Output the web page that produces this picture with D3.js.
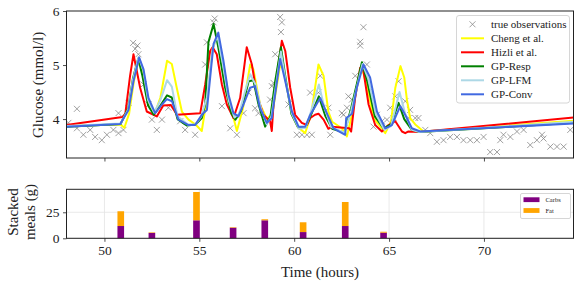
<!DOCTYPE html>
<html>

<head>
    <meta charset='utf-8'>
    <title>Glucose predictions</title>
    <script src='https://d3js.org/d3.v7.min.js'></script>
    <style>
        body { margin: 0; background: white; }
        text { font-family: 'Liberation Serif', 'Times New Roman', serif; fill: #222; }
    </style>
</head>

<body>
    <script>
        // observed glucose (hours, mmol/l)
        const obsTime = [48.10, 48.55, 48.55, 48.89, 49.25, 49.51, 49.86, 50.13, 50.47, 50.74, 51.00, 50.74, 51.27, 51.51, 51.62, 51.74, 51.79, 52.06, 52.32, 52.50, 52.76, 53.03, 53.37, 53.99, 54.25, 54.78, 55.31, 55.40, 55.75, 55.81, 56.19, 56.63, 56.98, 57.33, 57.59, 57.94, 58.12, 58.73, 58.82, 58.91, 59.00, 59.26, 59.35, 59.30, 59.70, 60.14, 60.41, 60.67, 60.93, 60.84, 61.28, 61.37, 61.80, 61.90, 62.51, 62.60, 62.78, 62.86, 63.04, 63.22, 63.48, 63.48, 63.65, 63.83, 64.00, 64.18, 64.36, 64.62, 64.89, 65.06, 65.23, 65.33, 65.50, 65.85, 66.03, 66.11, 66.38, 66.55, 66.91, 67.17, 67.52, 67.87, 68.22, 68.58, 68.92, 69.28, 69.63, 69.98, 70.33, 70.69, 70.86, 71.03, 71.39, 71.74, 72.09, 72.44, 72.79, 73.06, 73.14, 73.50, 73.85, 74.20, 74.55];
        const obsGlucose = [3.93, 4.19, 3.83, 3.71, 3.80, 3.67, 3.61, 3.71, 3.80, 3.74, 3.80, 4.11, 4.30, 5.41, 5.30, 5.36, 5.20, 4.64, 4.27, 3.99, 3.80, 3.99, 4.21, 3.96, 3.80, 3.71, 5.01, 5.42, 5.79, 5.86, 4.24, 3.83, 3.71, 4.11, 4.49, 4.20, 4.11, 4.36, 4.61, 4.67, 5.20, 5.89, 5.79, 5.61, 4.27, 3.71, 3.71, 3.71, 3.71, 4.49, 4.49, 4.80, 4.21, 3.71, 4.11, 4.08, 4.21, 4.42, 4.36, 4.80, 5.36, 5.43, 5.70, 5.01, 4.52, 3.86, 4.08, 3.96, 3.99, 4.21, 4.02, 4.42, 4.70, 4.33, 4.02, 4.17, 4.02, 4.02, 3.80, 3.74, 3.58, 3.61, 3.67, 3.67, 3.61, 3.61, 3.61, 3.67, 3.39, 3.39, 3.61, 3.71, 3.67, 3.77, 3.80, 3.52, 3.61, 3.71, 3.64, 3.49, 3.49, 3.49, 3.80];

        // model predictions
        const chengTime = [48.0, 50.85, 51.05, 51.3, 51.55, 51.8, 52.05, 52.3, 52.65, 52.95, 53.3, 53.55, 53.81, 54.08, 54.43, 54.8, 55.13, 55.48, 55.7, 55.95, 56.25, 56.6, 56.98, 57.3, 57.68, 57.85, 58.2, 58.56, 58.85, 59.26, 59.44, 59.88, 60.2, 60.58, 60.9, 61.28, 61.55, 61.8, 62.0, 62.51, 62.78, 63.04, 63.3, 63.55, 63.85, 64.18, 64.8, 65.1, 65.33, 65.6, 65.8, 65.94, 66.11, 66.38, 66.82, 74.72];
        const chengGlucose = [3.87, 3.9, 3.84, 4.1, 4.7, 5.1, 4.85, 4.35, 4.1, 4.4, 5.08, 5.02, 4.58, 4.14, 3.99, 3.9, 3.78, 4.58, 5.3, 5.55, 5.05, 4.3, 3.78, 4.2, 5.01, 4.92, 4.27, 4.0, 4.1, 5.01, 4.92, 4.1, 3.85, 3.74, 4.1, 5.01, 4.8, 4.14, 3.95, 3.83, 3.68, 4.08, 4.6, 4.97, 4.6, 4.02, 3.74, 3.95, 4.58, 4.98, 4.77, 4.36, 4.02, 3.9, 3.77, 3.97];

        const hizliTime = [48.0, 50.95, 51.1, 51.35, 51.53, 51.88, 52.23, 52.76, 53.1, 53.5, 53.82, 55.05, 55.31, 55.57, 55.7, 55.92, 56.19, 56.45, 56.8, 57.15, 57.5, 57.77, 58.03, 58.38, 58.73, 58.82, 58.91, 59.17, 59.35, 59.53, 59.79, 60.05, 60.4, 60.67, 60.85, 61.1, 61.28, 61.55, 61.8, 61.99, 62.9, 63.0, 63.21, 63.48, 63.65, 63.92, 64.27, 64.62, 64.97, 65.33, 65.68, 65.85, 66.0, 66.6, 74.72];
        const hizliGlucose = [3.89, 4.04, 4.1, 4.8, 5.2, 4.58, 4.14, 4.05, 4.25, 4.26, 4.08, 4.11, 4.64, 5.26, 5.33, 5.2, 4.64, 4.27, 4.02, 4.39, 5.33, 5.01, 4.45, 4.08, 3.96, 3.78, 4.27, 5.01, 5.45, 5.26, 4.58, 4.08, 3.93, 3.89, 4.02, 4.08, 4.1, 3.99, 3.82, 3.86, 3.83, 3.77, 4.39, 4.95, 4.89, 4.27, 3.89, 3.77, 3.89, 3.96, 3.77, 3.74, 3.77, 3.76, 4.03];

        const respTime = [48.0, 50.85, 51.25, 51.5, 51.78, 52.0, 52.3, 52.6, 52.95, 53.3, 53.55, 53.85, 54.35, 54.8, 55.13, 55.31, 55.48, 55.75, 56.0, 56.36, 56.7, 56.9, 57.2, 57.6, 57.85, 58.1, 58.47, 58.75, 59.0, 59.3, 59.55, 59.85, 60.2, 60.6, 60.85, 61.3, 61.65, 62.0, 62.65, 63.0, 63.57, 63.85, 64.25, 64.7, 65.1, 65.5, 65.8, 66.2, 66.6, 74.72];
        const respGlucose = [3.86, 3.91, 4.2, 4.75, 5.12, 4.8, 4.25, 4.08, 4.25, 4.44, 4.4, 4.0, 3.88, 3.9, 4.02, 4.27, 5.42, 5.76, 5.33, 4.58, 4.1, 3.99, 4.15, 4.7, 4.72, 4.3, 3.86, 4.05, 4.7, 5.33, 4.75, 4.1, 3.85, 3.85, 4.05, 4.42, 4.05, 3.82, 3.75, 4.2, 5.05, 4.7, 4.05, 3.83, 3.9, 4.3, 4.0, 3.8, 3.76, 3.93];

        const lfmTime = [48.0, 50.85, 51.25, 51.5, 51.8, 52.05, 52.3, 52.62, 52.95, 53.3, 53.55, 53.85, 54.4, 54.8, 55.1, 55.4, 55.7, 55.95, 56.25, 56.55, 56.85, 57.1, 57.4, 57.68, 57.95, 58.25, 58.55, 58.8, 59.3, 59.55, 59.88, 60.25, 60.6, 60.85, 61.3, 61.6, 61.95, 62.65, 63.0, 63.6, 63.9, 64.3, 64.75, 65.1, 65.55, 65.85, 66.2, 66.6, 74.72];
        const lfmGlucose = [3.87, 3.92, 4.18, 4.72, 5.15, 4.9, 4.35, 4.12, 4.35, 4.72, 4.6, 4.05, 3.9, 3.9, 4.05, 4.4, 5.3, 5.55, 5.0, 4.35, 4.03, 4.1, 4.5, 4.83, 4.65, 4.2, 3.9, 4.05, 5.25, 4.7, 4.1, 3.82, 3.84, 4.1, 4.64, 4.2, 3.85, 3.75, 4.15, 5.02, 4.75, 4.1, 3.8, 3.87, 4.5, 4.1, 3.8, 3.76, 3.95];

        const convTime = [48.0, 50.83, 51.27, 51.53, 51.83, 52.06, 52.32, 52.67, 53.03, 53.29, 53.56, 53.9, 54.43, 54.78, 55.13, 55.4, 55.75, 56.0, 56.27, 56.54, 56.8, 57.06, 57.33, 57.68, 57.94, 58.2, 58.56, 58.82, 59.26, 59.53, 59.88, 60.23, 60.58, 60.85, 61.37, 61.72, 62.07, 62.69, 62.74, 63.05, 63.3, 63.65, 64.0, 64.36, 64.8, 65.15, 65.59, 65.85, 66.2, 66.64, 74.72];
        const convGlucose = [3.86, 3.91, 4.17, 4.7, 5.14, 4.92, 4.39, 4.11, 4.27, 4.37, 4.33, 3.99, 3.89, 3.89, 4.08, 4.17, 5.39, 5.6, 5.08, 4.45, 4.11, 4.05, 4.27, 4.58, 4.61, 4.2, 3.93, 4.02, 5.11, 4.7, 4.14, 3.86, 3.86, 4.08, 4.39, 4.11, 3.83, 3.71, 4.02, 4.1, 4.58, 5.01, 4.77, 4.14, 3.83, 3.89, 4.24, 4.08, 3.83, 3.77, 3.92];

        // meals (g)
        const mealTime = [50.86, 52.5, 54.85, 56.78, 58.45, 60.47, 62.69, 64.71];
        const mealCarbs = [11.8, 5.2, 17.3, 10.2, 17.3, 6.0, 11.8, 5.4];
        const mealFat = [14.2, 0.5, 27.2, 0.5, 1.0, 9.4, 23.1, 0.9];

        const xTicks = [50, 55, 60, 65, 70];
        const glucoseTicks = [4, 5, 6];
        const mealTicks = [0, 25];

        const series = [
            { name: 'Cheng et al.', color: '#ffff00', t: chengTime, g: chengGlucose },
            { name: 'Hizli et al.', color: '#ff0000', t: hizliTime, g: hizliGlucose },
            { name: 'GP-Resp', color: '#008000', t: respTime, g: respGlucose },
            { name: 'GP-LFM', color: '#add8e6', t: lfmTime, g: lfmGlucose },
            { name: 'GP-Conv', color: '#4169e1', t: convTime, g: convGlucose }
        ];

        const W = 582, H = 287;
        const left = 66.5, right = 573.5;
        const top1 = 11, bottom1 = 158;
        const top2 = 189.3, bottom2 = 238.3;

        const svg = d3.select('body').append('svg')
            .attr('width', W)
            .attr('height', H);

        const x = d3.scaleLinear().domain([48.0, 74.72]).range([left, right]);
        const y = d3.scaleLinear().domain([3.28, 6.0]).range([bottom1, top1]);
        const yMeal = d3.scaleLinear().domain([0, 47.1]).range([bottom2, top2]);

        svg.append('clipPath').attr('id', 'clipTop')
            .append('rect')
            .attr('x', left).attr('y', top1)
            .attr('width', right - left).attr('height', bottom1 - top1);

        // ---------- top panel ----------
        const plot = svg.append('g').attr('clip-path', 'url(#clipTop)');

        const obs = obsTime.map((t, i) => ({ t: t, g: obsGlucose[i] }));
        const cross = 'M-3,-3L3,3M-3,3L3,-3';

        plot.selectAll('.obs')
            .data(obs)
            .enter()
            .append('path')
            .attr('class', 'obs')
            .attr('d', cross)
            .attr('transform', d => 'translate(' + x(d.t) + ',' + y(d.g) + ')')
            .attr('stroke', '#808080')
            .attr('stroke-opacity', 0.75)
            .attr('stroke-width', 1)
            .attr('fill', 'none');

        const line = d3.line()
            .x(d => x(d[0]))
            .y(d => y(d[1]));

        series.forEach(s => {
            plot.append('path')
                .datum(s.t.map((t, i) => [t, s.g[i]]))
                .attr('d', line)
                .attr('fill', 'none')
                .attr('stroke', s.color)
                .attr('stroke-width', 2)
                .attr('stroke-linejoin', 'round');
        });

        // axes top
        const yAxis = svg.append('g')
            .attr('transform', 'translate(' + left + ',0)')
            .call(d3.axisLeft(y).tickValues(glucoseTicks).tickSize(3.5).tickPadding(3.5).tickFormat(d3.format('d')));
        const xAxisTop = svg.append('g')
            .attr('transform', 'translate(0,' + bottom1 + ')')
            .call(d3.axisBottom(x).tickValues(xTicks).tickSize(3.5).tickFormat(''));

        [yAxis, xAxisTop].forEach(a => {
            a.select('.domain').remove();
            a.selectAll('.tick line').attr('stroke', '#222').attr('stroke-width', 0.8);
            a.selectAll('.tick text').style('font-family', "'Liberation Serif', serif").style('font-size', '13.5px').attr('fill', '#222');
        });

        svg.append('rect')
            .attr('x', left).attr('y', top1)
            .attr('width', right - left).attr('height', bottom1 - top1)
            .attr('fill', 'none').attr('stroke', '#222').attr('stroke-width', 1);

        svg.append('text')
            .attr('transform', 'translate(43,85) rotate(-90)')
            .attr('text-anchor', 'middle')
            .style('font-size', '15px')
            .text('Glucose (mmol/l)');

        // legend top
        const lg = svg.append('g');
        lg.append('rect')
            .attr('x', 456.5).attr('y', 15.5)
            .attr('width', 113).attr('height', 87.5)
            .attr('rx', 2.5)
            .attr('fill', 'white').attr('fill-opacity', 0.85)
            .attr('stroke', '#cccccc').attr('stroke-width', 0.8);
        lg.append('path')
            .attr('d', cross)
            .attr('transform', 'translate(472.5,24.3)')
            .attr('stroke', '#808080').attr('stroke-opacity', 0.75).attr('fill', 'none');
        lg.append('text')
            .attr('x', 491).attr('y', 24.3).attr('dy', '0.33em')
            .style('font-size', '11px')
            .text('true observations');
        series.forEach((s, i) => {
            const yy = 38.3 + i * 14;
            lg.append('line')
                .attr('x1', 461).attr('x2', 484)
                .attr('y1', yy).attr('y2', yy)
                .attr('stroke', s.color).attr('stroke-width', 2);
            lg.append('text')
                .attr('x', 491).attr('y', yy).attr('dy', '0.33em')
                .style('font-size', '11px')
                .text(s.name);
        });

        // ---------- bottom panel ----------
        const grid = svg.append('g');
        grid.selectAll('.vgrid')
            .data(xTicks)
            .enter()
            .append('line')
            .attr('x1', d => x(d)).attr('x2', d => x(d))
            .attr('y1', top2).attr('y2', bottom2)
            .attr('stroke', '#e3e3e3').attr('stroke-width', 0.8);
        grid.selectAll('.hgrid')
            .data(mealTicks)
            .enter()
            .append('line')
            .attr('x1', left).attr('x2', right)
            .attr('y1', d => yMeal(d)).attr('y2', d => yMeal(d))
            .attr('stroke', '#e3e3e3').attr('stroke-width', 0.8);

        const meals = mealTime.map((t, i) => ({ t: t, carbs: mealCarbs[i], fat: mealFat[i] }));
        const stacked = d3.stack().keys(['carbs', 'fat'])(meals);
        const mealColors = { carbs: '#800080', fat: '#ffa500' };
        const barHalf = 0.175;

        svg.append('g')
            .selectAll('g')
            .data(stacked)
            .enter()
            .append('g')
            .attr('fill', d => mealColors[d.key])
            .selectAll('rect')
            .data(d => d)
            .enter()
            .append('rect')
            .attr('x', d => x(d.data.t - barHalf))
            .attr('width', d => x(d.data.t + barHalf) - x(d.data.t - barHalf))
            .attr('y', d => yMeal(d[1]))
            .attr('height', d => yMeal(d[0]) - yMeal(d[1]));

        const yAxis2 = svg.append('g')
            .attr('transform', 'translate(' + left + ',0)')
            .call(d3.axisLeft(yMeal).tickValues(mealTicks).tickSize(3.5).tickPadding(3.5));
        const xAxis2 = svg.append('g')
            .attr('transform', 'translate(0,' + bottom2 + ')')
            .call(d3.axisBottom(x).tickValues(xTicks).tickSize(3.5).tickPadding(3.5));

        [yAxis2, xAxis2].forEach(a => {
            a.select('.domain').remove();
            a.selectAll('.tick line').attr('stroke', '#222').attr('stroke-width', 0.8);
            a.selectAll('.tick text').style('font-family', "'Liberation Serif', serif").style('font-size', '13.5px').attr('fill', '#222');
        });

        svg.append('rect')
            .attr('x', left).attr('y', top2)
            .attr('width', right - left).attr('height', bottom2 - top2)
            .attr('fill', 'none').attr('stroke', '#222').attr('stroke-width', 1);

        const ylab2 = svg.append('text')
            .attr('transform', 'translate(0,212) rotate(-90)')
            .attr('text-anchor', 'middle')
            .style('font-size', '15px');
        ylab2.append('tspan').attr('x', 0).attr('y', 18).text('Stacked');
        ylab2.append('tspan').attr('x', 0).attr('y', 35).text('meals (g)');

        svg.append('text')
            .attr('x', (left + right) / 2).attr('y', 277)
            .attr('text-anchor', 'middle')
            .style('font-size', '15px')
            .text('Time (hours)');

        // legend bottom
        const lg2 = svg.append('g');
        lg2.append('rect')
            .attr('x', 520.5).attr('y', 193.5)
            .attr('width', 50).attr('height', 25)
            .attr('rx', 1.5)
            .attr('fill', 'white').attr('fill-opacity', 0.85)
            .attr('stroke', '#cccccc').attr('stroke-width', 0.8);
        [['Carbs', 'carbs'], ['Fat', 'fat']].forEach((d, i) => {
            const yy = 199.7 + i * 10.8;
            lg2.append('rect')
                .attr('x', 523.5).attr('y', yy - 2.4)
                .attr('width', 16).attr('height', 4.8)
                .attr('fill', mealColors[d[1]]);
            lg2.append('text')
                .attr('x', 545.5).attr('y', yy).attr('dy', '0.33em')
                .style('font-size', '6.5px')
                .text(d[0]);
        });
    </script>
</body>

</html>
